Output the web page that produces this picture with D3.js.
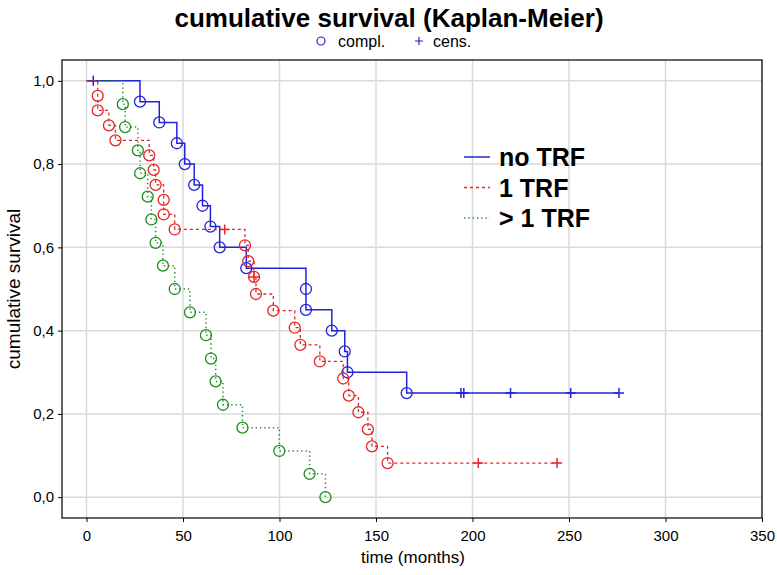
<!DOCTYPE html>
<html>
<head>
<meta charset="utf-8">
<script src="https://cdn.jsdelivr.net/npm/d3@7"></script>
<style>
	body { margin: 0; background: #fff; }
	svg text { font-family: "Liberation Sans", Arial, sans-serif; }
</style>
</head>
<body>
<svg id="chart"></svg>
<script>
/*
 *  Kaplan-Meier cumulative survival, three groups.
 */

const W = 777, H = 575;

// values (time in months, survival proportion)
const xTicks = [0, 50, 100, 150, 200, 250, 300, 350];
const yTicks = [0, 0.2, 0.4, 0.6, 0.8, 1.0];

const groupNames = ['no TRF', '1 TRF', '> 1 TRF'];

const noTrfEventT = [27.7, 37.7, 46.8, 50.9, 55.8, 60.1, 64.2, 69.0, 82.8, 113.7, 113.7, 127.1, 133.8, 135.2, 165.9];
const noTrfEventS = [0.95, 0.90, 0.85, 0.80, 0.75, 0.70, 0.65, 0.60, 0.55, 0.50, 0.45, 0.40, 0.35, 0.30, 0.25];
const noTrfCensT = [3.5, 194.0, 195.5, 219.7, 250.9, 275.9];
const noTrfCensS = [1.0, 0.25, 0.25, 0.25, 0.25, 0.25];

const oneTrfEventT = [5.8, 5.8, 11.6, 15.0, 32.5, 34.8, 35.8, 40.0, 40.0, 45.7, 82.1, 83.8, 86.8, 87.8, 96.8, 107.9, 110.8, 120.9, 133.0, 135.9, 140.9, 145.8, 147.9, 156.0];
const oneTrfEventS = [0.964, 0.929, 0.893, 0.857, 0.821, 0.786, 0.750, 0.714, 0.679, 0.643, 0.605, 0.567, 0.529, 0.488, 0.448, 0.407, 0.366, 0.326, 0.285, 0.244, 0.204, 0.163, 0.122, 0.082];
const oneTrfCensT = [71.6, 86.8, 203.0, 243.8];
const oneTrfCensS = [0.643, 0.529, 0.082, 0.082];

const manyTrfEventT = [18.8, 20.0, 26.6, 27.8, 31.7, 33.6, 35.8, 39.6, 45.7, 53.6, 61.9, 64.5, 66.9, 70.7, 80.8, 99.9, 115.6, 123.8];
const manyTrfEventS = [0.944, 0.889, 0.833, 0.778, 0.722, 0.667, 0.611, 0.556, 0.500, 0.444, 0.389, 0.333, 0.278, 0.222, 0.167, 0.111, 0.056, 0.0];
const manyTrfCensT = [];
const manyTrfCensS = [];

const groups = [
	{ name: groupNames[0], color: '#2323d9', dash: null, width: 1.5,
		evT: noTrfEventT, evS: noTrfEventS, ceT: noTrfCensT, ceS: noTrfCensS },
	{ name: groupNames[1], color: '#e52525', dash: '3,3', width: 1.3,
		evT: oneTrfEventT, evS: oneTrfEventS, ceT: oneTrfCensT, ceS: oneTrfCensS },
	{ name: groupNames[2], color: '#1f8c1f', dash: '1.3,3', width: 1.5,
		evT: manyTrfEventT, evS: manyTrfEventS, ceT: manyTrfCensT, ceS: manyTrfCensS },
];

const margin = { top: 60, right: 15, bottom: 57, left: 62 };

const svg = d3.select('#chart').attr('width', W).attr('height', H);

const x = d3.scaleLinear().domain([-12.7, 350]).range([margin.left, W - margin.right]);
const y = d3.scaleLinear().domain([-0.05, 1.05]).range([H - margin.bottom, margin.top]);

const fmt = d => d3.format('.1f')(d).replace('.', ',');

// grid
const grid = svg.append('g').attr('class', 'grid');
grid.selectAll('line.vx').data(xTicks).enter().append('line')
	.attr('x1', d => x(d)).attr('x2', d => x(d))
	.attr('y1', y.range()[1]).attr('y2', y.range()[0])
	.attr('stroke', '#dadada').attr('stroke-width', 1.5);
grid.selectAll('line.hy').data(yTicks).enter().append('line')
	.attr('x1', x.range()[0]).attr('x2', x.range()[1])
	.attr('y1', d => y(d)).attr('y2', d => y(d))
	.attr('stroke', '#dadada').attr('stroke-width', 1.5);

// axes
const xAxis = svg.append('g')
	.attr('transform', `translate(0,${y.range()[0]})`)
	.call(d3.axisBottom(x).tickValues(xTicks).tickSize(4).tickPadding(8).tickFormat(d3.format('d')));
const yAxis = svg.append('g')
	.attr('transform', `translate(${x.range()[0]},0)`)
	.call(d3.axisLeft(y).tickValues(yTicks).tickSize(4).tickPadding(4).tickFormat(fmt));
[xAxis, yAxis].forEach(a => {
	a.select('.domain').remove();
	a.selectAll('text').attr('font-size', '15px').attr('fill', '#000')
		.attr('font-family', '"Liberation Sans", Arial, sans-serif');
	a.selectAll('line').attr('stroke', '#000');
});

// frame
svg.append('rect')
	.attr('x', x.range()[0]).attr('y', y.range()[1])
	.attr('width', x.range()[1] - x.range()[0])
	.attr('height', y.range()[0] - y.range()[1])
	.attr('fill', 'none').attr('stroke', '#000').attr('stroke-width', 1.2);

// curves
const stepLine = d3.line().x(d => x(d[0])).y(d => y(d[1])).curve(d3.curveStepAfter);

groups.forEach(g => {
	const ev = g.evT.map((t, i) => [t, g.evS[i]]);
	const ce = g.ceT.map((t, i) => [t, g.ceS[i]]);
	const lastT = d3.max(g.evT.concat(g.ceT));
	const pts = [[0, 1]].concat(ev);
	const lastS = pts[pts.length - 1][1];
	pts.push([lastT, lastS]);

	const layer = svg.append('g');
	layer.append('path')
		.attr('d', stepLine(pts))
		.attr('fill', 'none')
		.attr('stroke', g.color)
		.attr('stroke-width', g.width)
		.attr('stroke-dasharray', g.dash);

	layer.selectAll('circle').data(ev).enter().append('circle')
		.attr('cx', d => x(d[0])).attr('cy', d => y(d[1]))
		.attr('r', 5.5)
		.attr('fill', 'none')
		.attr('stroke', g.color)
		.attr('stroke-width', 1.3);

	layer.selectAll('path.cens').data(ce).enter().append('path')
		.attr('class', 'cens')
		.attr('d', d => {
			const cx = x(d[0]), cy = y(d[1]);
			return `M${cx - 5},${cy}H${cx + 5}M${cx},${cy - 5}V${cy + 5}`;
		})
		.attr('stroke', g.color)
		.attr('stroke-width', 1.5);
});

// inner legend
const leg = svg.append('g');
groups.forEach((g, i) => {
	const ly = 157 + i * 30.5;
	leg.append('line')
		.attr('x1', 464).attr('x2', 490).attr('y1', ly).attr('y2', ly)
		.attr('stroke', g.color).attr('stroke-width', g.width)
		.attr('stroke-dasharray', g.dash);
	leg.append('text')
		.attr('x', 499).attr('y', ly + 9)
		.attr('font-size', '25px').attr('font-weight', 'bold')
		.text(g.name);
});

// title and symbol key
svg.append('text')
	.attr('x', 389).attr('y', 27)
	.attr('text-anchor', 'middle')
	.attr('font-size', '26px').attr('font-weight', 'bold')
	.text('cumulative survival (Kaplan-Meier)');

svg.append('circle').attr('cx', 321).attr('cy', 41).attr('r', 4)
	.attr('fill', 'none').attr('stroke', '#2323d9').attr('stroke-width', 1.2);
svg.append('text').attr('x', 338).attr('y', 47).attr('font-size', '16px').text('compl.');
svg.append('path').attr('d', 'M415,41H423M419,37V45')
	.attr('stroke', '#2323d9').attr('stroke-width', 1.2);
svg.append('text').attr('x', 433).attr('y', 47).attr('font-size', '16px').text('cens.');

// axis titles
svg.append('text')
	.attr('x', 413).attr('y', 563)
	.attr('text-anchor', 'middle').attr('font-size', '17px')
	.text('time (months)');
svg.append('text')
	.attr('transform', `translate(20,${(y.range()[0] + y.range()[1]) / 2}) rotate(-90)`)
	.attr('text-anchor', 'middle').attr('font-size', '19px')
	.text('cumulative survival');
</script>
</body>
</html>
